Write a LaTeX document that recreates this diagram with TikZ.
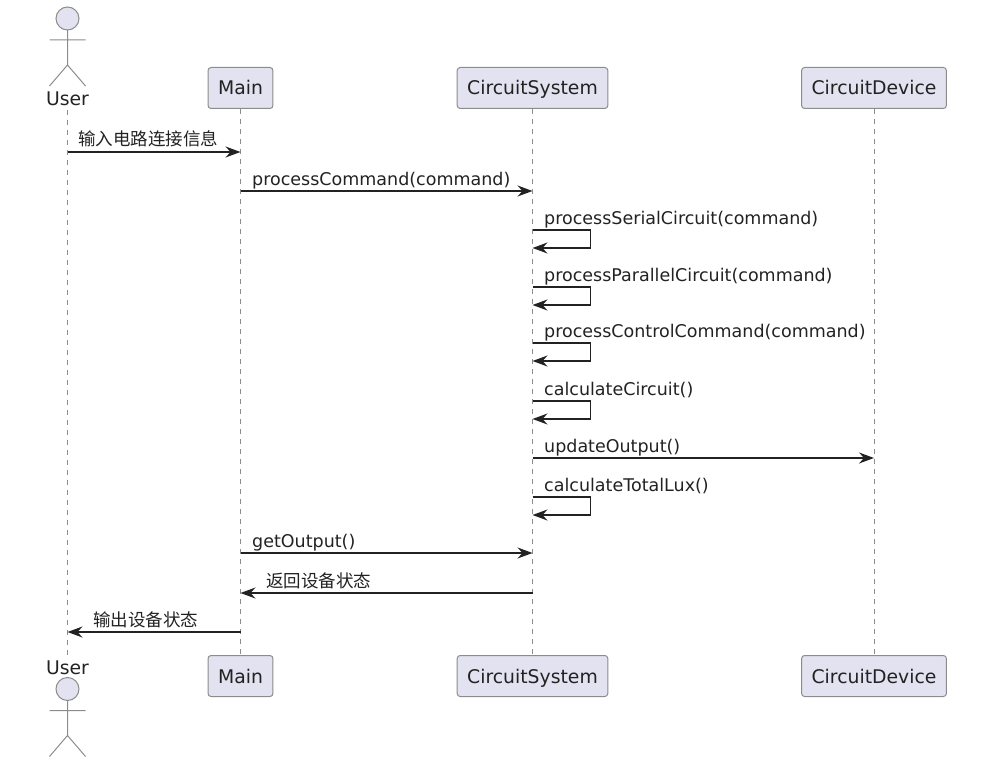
\documentclass[tikz,border=0pt]{standalone}
\usepackage{fontspec}
\setmainfont{DejaVu Sans}
\newfontfamily\cjk{Noto Sans CJK SC}
\usetikzlibrary{arrows.meta}
\definecolor{part-fill}{HTML}{E2E2F0}
\definecolor{border-color}{HTML}{8C8C8C}
\definecolor{line-color}{HTML}{222222}

\begin{document}
\begin{tikzpicture}[x=1pt,y=-1pt,
    part/.style={draw=border-color, line width=1pt, fill=part-fill, rounded corners=3pt,
      minimum height=41pt, inner xsep=10pt, text height=14pt, text depth=0pt,
      text=line-color, font=\fontsize{18.8}{22}\selectfont},
    actorname/.style={inner sep=0pt, anchor=base, text=line-color, font=\fontsize{18.8}{22}\selectfont},
    lifeline/.style={draw=border-color, line width=0.9pt, dash pattern=on 5pt off 5pt},
    msg/.style={draw=line-color, line width=1.35pt, -{Stealth[length=15pt,width=11pt,inset=5pt]}},
    lbl/.style={inner sep=0pt, anchor=base west, yshift=6pt, text=line-color, font=\fontsize{17.5}{20}\selectfont},
    stickman/.pic={
      \draw[border-color, line width=1pt, fill=part-fill] (0,0) circle[radius=11.5];
      \draw[border-color, line width=1pt] (0,11.5) -- (0,46.5)
        (-18,21.5) -- (18,21.5)
        (-18,67.5) -- (0,46.5) -- (18,67.5);
    }]
    \useasboundingbox (0,0) rectangle (993,765);

    % participants
    \node[actorname] (usr) at (67.5,106) {User};
    \node[part] (main) at (240.5,88) {Main};
    \node[part] (sys) at (532.5,88) {CircuitSystem};
    \node[part] (dev) at (874,88) {CircuitDevice};
    \pic at (67.5,18.5) {stickman};

    \node[actorname] (usrB) at (67.5,674) {User};
    \node[part] (mainB) at (240.5,676) {Main};
    \node[part] (sysB) at (532.5,676) {CircuitSystem};
    \node[part] (devB) at (874,676) {CircuitDevice};
    \pic at (67.5,689) {stickman};

    % lifelines
    \draw[lifeline] (usr.south) ++(0,4) -- ([yshift=4pt]usrB.north);
    \draw[lifeline] (main.south) -- (mainB.north);
    \draw[lifeline] (sys.south) -- (sysB.north);
    \draw[lifeline] (dev.south) -- (devB.north);

    % rows
    \coordinate (r1) at (0,152);
    \coordinate (r2) at (0,191);
    \coordinate (s3) at (0,230);  \coordinate (e3) at (0,248);
    \coordinate (s4) at (0,287);  \coordinate (e4) at (0,305);
    \coordinate (s5) at (0,343);  \coordinate (e5) at (0,361);
    \coordinate (s6) at (0,401);  \coordinate (e6) at (0,419);
    \coordinate (r7) at (0,458);
    \coordinate (s8) at (0,497);  \coordinate (e8) at (0,515);
    \coordinate (r9) at (0,553);
    \coordinate (r10) at (0,593);
    \coordinate (r11) at (0,632);

    % messages
    \draw[msg] (usr |- r1) -- node[lbl, at start, xshift=10pt] (l1) {\cjk 输入电路连接信息} (main |- r1);
    \draw[msg] (main |- r2) -- node[lbl, at start, xshift=11pt] (l2) {processCommand(command)} (sys |- r2);
    \draw[msg] (sys |- s3) -- ++(58,0) node[lbl, at start, xshift=11pt] (l3) {processSerialCircuit(command)} |- (sys |- e3);
    \draw[msg] (sys |- s4) -- ++(58,0) node[lbl, at start, xshift=11pt] (l4) {processParallelCircuit(command)} |- (sys |- e4);
    \draw[msg] (sys |- s5) -- ++(58,0) node[lbl, at start, xshift=11pt] (l5) {processControlCommand(command)} |- (sys |- e5);
    \draw[msg] (sys |- s6) -- ++(58,0) node[lbl, at start, xshift=11pt] (l6) {calculateCircuit()} |- (sys |- e6);
    \draw[msg] (sys |- r7) -- node[lbl, at start, xshift=11pt] (l7) {updateOutput()} (dev |- r7);
    \draw[msg] (sys |- s8) -- ++(58,0) node[lbl, at start, xshift=11pt] (l8) {calculateTotalLux()} |- (sys |- e8);
    \draw[msg] (main |- r9) -- node[lbl, at start, xshift=11pt] (l9) {getOutput()} (sys |- r9);
    \draw[msg] (sys |- r10) -- node[lbl, at end, xshift=25pt] (l10) {\cjk 返回设备状态} (main |- r10);
    \draw[msg] (main |- r11) -- node[lbl, at end, xshift=25pt] (l11) {\cjk 输出设备状态} (usr |- r11);
\end{tikzpicture}
\end{document}
